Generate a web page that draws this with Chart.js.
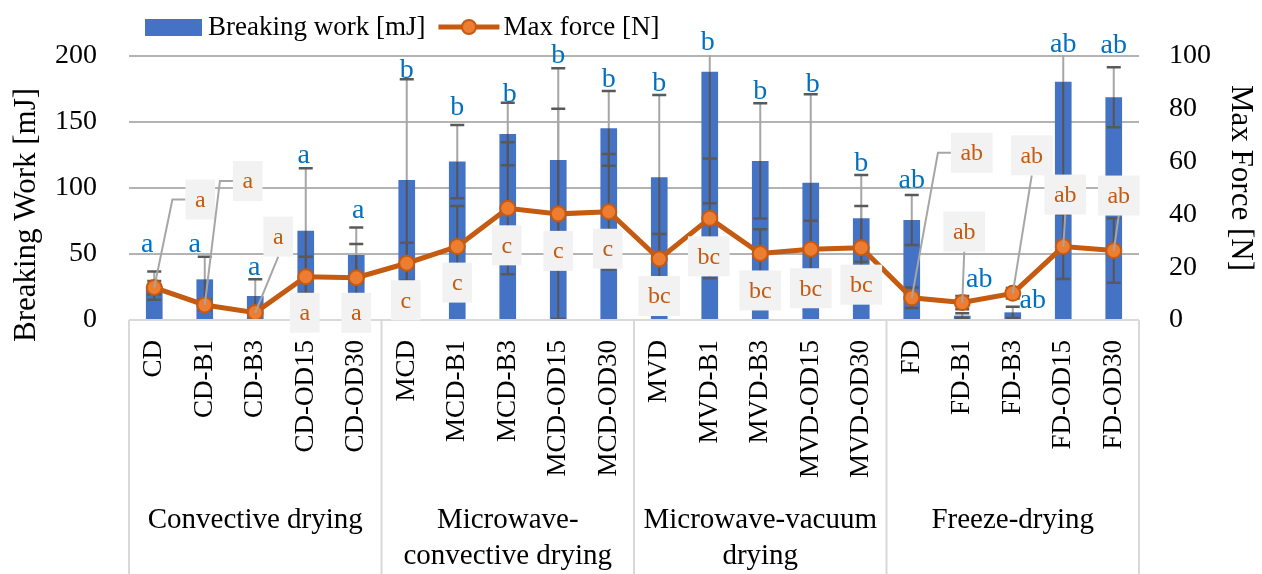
<!DOCTYPE html>
<html>
<head>
<meta charset="utf-8">
<script src="https://cdn.jsdelivr.net/npm/chart.js@4.4.0/dist/chart.umd.min.js"></script>
<style>
html,body{margin:0;padding:0;background:#fff}
#wrap{width:1262px;height:574px}
</style>
</head>
<body>
<div id="wrap"><canvas id="chart"></canvas></div>
<script>
// data
const samples = ['CD','CD-B1','CD-B3','CD-OD15','CD-OD30',
  'MCD','MCD-B1','MCD-B3','MCD-OD15','MCD-OD30',
  'MVD','MVD-B1','MVD-B3','MVD-OD15','MVD-OD30',
  'FD','FD-B1','FD-B3','FD-OD15','FD-OD30'];
const groups = [['Convective drying'],['Microwave-','convective drying'],['Microwave-vacuum','drying'],['Freeze-drying']];
const groupSize = 5;
const breakingWork = [26,30.8,18.2,67.7,49.2, 106,120,140.9,121.2,145.2, 108.1,188.1,120.5,104,77, 75.8,3.3,5.8,180.5,168.7];
const breakingWorkSd = [10.7,17.1,12.6,47.2,20.9, 76.3,27.8,23.7,69.5,28.3, 62.3,99.7,43.7,67,32.8, 18.9,1.8,4.2,80,22.7];
const maxForce = [12.3,5.7,2.8,16.4,16.0, 21.5,27.8,42.3,40.2,41.0, 23.1,38.5,25.2,26.8,27.4, 8.4,6.6,10.1,27.8,26.3];
const maxForceSd = [2.5,2,1.5,7.6,12.8, 7.8,15.4,25,39.8,21.9, 9.5,22.7,9.2,10.8,15.8, 3.9,2.5,2,12.3,12.2];
const workLetters = ['a','a','a','a','a','b','b','b','b','b','b','b','b','b','b','ab','ab','ab','ab','ab'];
const forceLetters = ['a','a','a','a','a','c','c','c','c','c','bc','bc','bc','bc','bc','ab','ab','ab','ab','ab'];
const workTicks = [0,50,100,150,200];
const forceTicks = [0,20,40,60,80,100];

// label placement (px offsets), kept apart from the data
const workLabelShift = [[-7,-16],[-10,-1],[-1,0],[-2,-1],[2,-5],[0,3],[0,-6],[2,3],[0,-1],[0,0],
  [0,0],[-2,-2],[0,0],[2,2],[0,0],[0,-3],[17,-22],[20,5],[0,0],[0,-10]];
const forceLabelShift = [[46,-88],[43,-124],[23,-76],[-1,36],[0,35],[-1,37],[0,36],[-1,37],[0,37],[-1,37],
  [0,37],[-1,38],[0,37],[0,39],[0,37],[60,-145],[2,-71],[19,-138],[2,-52],[5,-55]];
const forceLeader = ['elbow','elbow','bottom','','','','','','','','','','','','','elbow','bottom','bottom','bottom','bottom'];

const FONT = "'Liberation Serif', 'Times New Roman', serif";
const GRID = '#b3b3b3', FRAME = '#d9d9d9';

function seg(ctx, x, y0, y1, color){
  if (y1 <= y0) return;
  ctx.strokeStyle = color;
  ctx.beginPath(); ctx.moveTo(x, y0); ctx.lineTo(x, y1); ctx.stroke();
}

function drawErr(chart, di, sd, axis){
  const meta = chart.getDatasetMeta(di), sc = chart.scales[axis], ctx = chart.ctx, a = chart.chartArea;
  const bars = chart.getDatasetMeta(0).data;
  const vals = chart.data.datasets[di].data;
  ctx.save();
  ctx.beginPath(); ctx.rect(a.left, a.top - 1, a.right - a.left, a.bottom - a.top + 2); ctx.clip();
  ctx.lineWidth = 2;
  meta.data.forEach((el, i) => {
    const x = el.x, hi = sc.getPixelForValue(vals[i] + sd[i]), lo = sc.getPixelForValue(vals[i] - sd[i]);
    // light grey over the background, dark where it crosses the bar
    const bt = bars[i].y, bb = bars[i].base;
    seg(ctx, x, hi, Math.min(lo, bt), '#a6a6a6');
    seg(ctx, x, Math.max(hi, bt), Math.min(lo, bb), '#555555');
    seg(ctx, x, Math.max(hi, bb), lo, '#a6a6a6');
    ctx.strokeStyle = '#595959'; ctx.lineWidth = 2.5;
    ctx.beginPath();
    ctx.moveTo(x - 7, hi); ctx.lineTo(x + 7, hi);
    ctx.moveTo(x - 7, lo); ctx.lineTo(x + 7, lo);
    ctx.stroke();
    ctx.lineWidth = 2;
  });
  ctx.restore();
}

const errorBars = {
  id: 'errorBars',
  afterDatasetDraw(chart, args){ if (args.index === 0) drawErr(chart, 0, breakingWorkSd, 'y'); },
  beforeDatasetDraw(chart, args){ if (args.index === 1) drawErr(chart, 1, maxForceSd, 'y1'); }
};

const decorations = {
  id: 'decorations',
  afterDraw(chart){
    const ctx = chart.ctx, a = chart.chartArea, xs = chart.scales.x;
    const ys = chart.scales.y;
    const H = chart.height;
    ctx.save();

    // category frame
    ctx.strokeStyle = FRAME; ctx.lineWidth = 2;
    ctx.beginPath(); ctx.moveTo(a.left, a.bottom); ctx.lineTo(a.right, a.bottom); ctx.stroke();
    const bounds = [a.left];
    for (let g = 1; g < groups.length; g++) {
      const k = g * groupSize;
      bounds.push((xs.getPixelForValue(k - 1) + xs.getPixelForValue(k)) / 2);
    }
    bounds.push(a.right);
    bounds.forEach(bx => { ctx.beginPath(); ctx.moveTo(bx, a.bottom); ctx.lineTo(bx, H); ctx.stroke(); });

    // group names
    ctx.fillStyle = '#000'; ctx.font = '29px ' + FONT; ctx.textAlign = 'center'; ctx.textBaseline = 'middle';
    groups.forEach((lines, g) => {
      const cx = (bounds[g] + bounds[g + 1]) / 2;
      lines.forEach((t, j) => ctx.fillText(t, cx, a.bottom + 200 + j * 36));
    });

    // axis titles
    ctx.font = '31px ' + FONT;
    ctx.save(); ctx.translate(27, 215); ctx.rotate(-Math.PI / 2); ctx.fillText('Breaking Work [mJ]', 0, 0); ctx.restore();
    ctx.save(); ctx.translate(1240, 178); ctx.rotate(Math.PI / 2); ctx.fillText('Max Force [N]', 0, 0); ctx.restore();

    // letters over the bars
    const bars = chart.getDatasetMeta(0).data;
    ctx.font = '28px ' + FONT; ctx.fillStyle = '#0070c0'; ctx.textBaseline = 'alphabetic';
    bars.forEach((el, i) => {
      const capY = Math.max(ys.getPixelForValue(breakingWork[i] + breakingWorkSd[i]), a.top);
      ctx.fillText(workLetters[i], el.x + workLabelShift[i][0], capY - 4 + workLabelShift[i][1]);
    });

    // letters for the force line (boxed, some with leader lines)
    const pts = chart.getDatasetMeta(1).data;
    ctx.font = '24px ' + FONT;
    pts.forEach((p, i) => {
      const w = ctx.measureText(forceLetters[i]).width + 19, h = 40;
      const bx = p.x + forceLabelShift[i][0], by = p.y + forceLabelShift[i][1];
      ctx.strokeStyle = '#a6a6a6'; ctx.lineWidth = 2;
      if (forceLeader[i] === 'elbow') {
        ctx.beginPath(); ctx.moveTo(bx - w / 2, by); ctx.lineTo(bx - w / 2 - 13, by); ctx.lineTo(p.x, p.y); ctx.stroke();
      } else if (forceLeader[i] === 'bottom') {
        ctx.beginPath(); ctx.moveTo(bx, by + h / 2); ctx.lineTo(p.x, p.y); ctx.stroke();
      }
      ctx.fillStyle = '#f2f2f2'; ctx.fillRect(bx - w / 2, by - h / 2, w, h);
      ctx.fillStyle = '#c55a11'; ctx.textBaseline = 'middle';
      ctx.fillText(forceLetters[i], bx, by + 1);
    });

    // legend
    const ds = chart.data.datasets;
    let lx = 145; const ly = 28;
    ctx.font = '27px ' + FONT; ctx.textAlign = 'left'; ctx.textBaseline = 'middle';
    ctx.fillStyle = ds[0].backgroundColor; ctx.fillRect(lx, ly - 9, 57, 17);
    lx += 63; ctx.fillStyle = '#000'; ctx.fillText(ds[0].label, lx, ly);
    lx += ctx.measureText(ds[0].label).width + 13;
    ctx.strokeStyle = ds[1].borderColor; ctx.lineWidth = 5;
    ctx.beginPath(); ctx.moveTo(lx, ly - 1); ctx.lineTo(lx + 61, ly - 1); ctx.stroke();
    ctx.beginPath(); ctx.arc(lx + 30.5, ly - 1, 7, 0, Math.PI * 2);
    ctx.fillStyle = ds[1].pointBackgroundColor; ctx.fill();
    ctx.lineWidth = 2; ctx.strokeStyle = ds[1].pointBorderColor; ctx.stroke();
    lx += 65; ctx.fillStyle = '#000'; ctx.fillText(ds[1].label, lx, ly);
    ctx.restore();
  }
};

new Chart(document.getElementById('chart'), {
  type: 'bar',
  data: {
    labels: samples,
    datasets: [
      { type: 'bar', label: 'Breaking work [mJ]', data: breakingWork, yAxisID: 'y',
        backgroundColor: '#4472c4', barPercentage: 0.33, categoryPercentage: 1, order: 2 },
      { type: 'line', label: 'Max force [N]', data: maxForce, yAxisID: 'y1',
        borderColor: '#c55a11', borderWidth: 5, tension: 0,
        pointRadius: 7.5, pointBorderWidth: 2, pointBackgroundColor: '#ed7d31', pointBorderColor: '#c55a11',
        order: 1 }
    ]
  },
  options: {
    responsive: true, maintainAspectRatio: false, animation: false, devicePixelRatio: 1,
    layout: { padding: { top: 56, left: 0, right: 0, bottom: 0 } },
    plugins: { legend: { display: false }, tooltip: { enabled: false } },
    scales: {
      x: {
        grid: { display: false, drawTicks: false },
        border: { display: false },
        ticks: { autoSkip: false, maxRotation: 90, minRotation: 90, padding: 20, color: '#000',
          font: { family: FONT, size: 27 } },
        afterFit(s){ s.height = 254; }
      },
      y: {
        position: 'left', min: workTicks[0], max: workTicks[workTicks.length - 1],
        ticks: { stepSize: workTicks[1] - workTicks[0], padding: 32, color: '#000', font: { family: FONT, size: 28 } },
        grid: { color: c => c.tick.value === 0 ? 'rgba(0,0,0,0)' : GRID, lineWidth: 2, drawTicks: false },
        border: { display: false },
        afterFit(s){ s.width = 129; }
      },
      y1: {
        position: 'right', min: forceTicks[0], max: forceTicks[forceTicks.length - 1],
        ticks: { stepSize: forceTicks[1] - forceTicks[0], padding: 30, color: '#000', font: { family: FONT, size: 28 } },
        grid: { drawOnChartArea: false, drawTicks: false },
        border: { display: false },
        afterFit(s){ s.width = 123; }
      }
    }
  },
  plugins: [errorBars, decorations]
});
</script>
</body>
</html>
